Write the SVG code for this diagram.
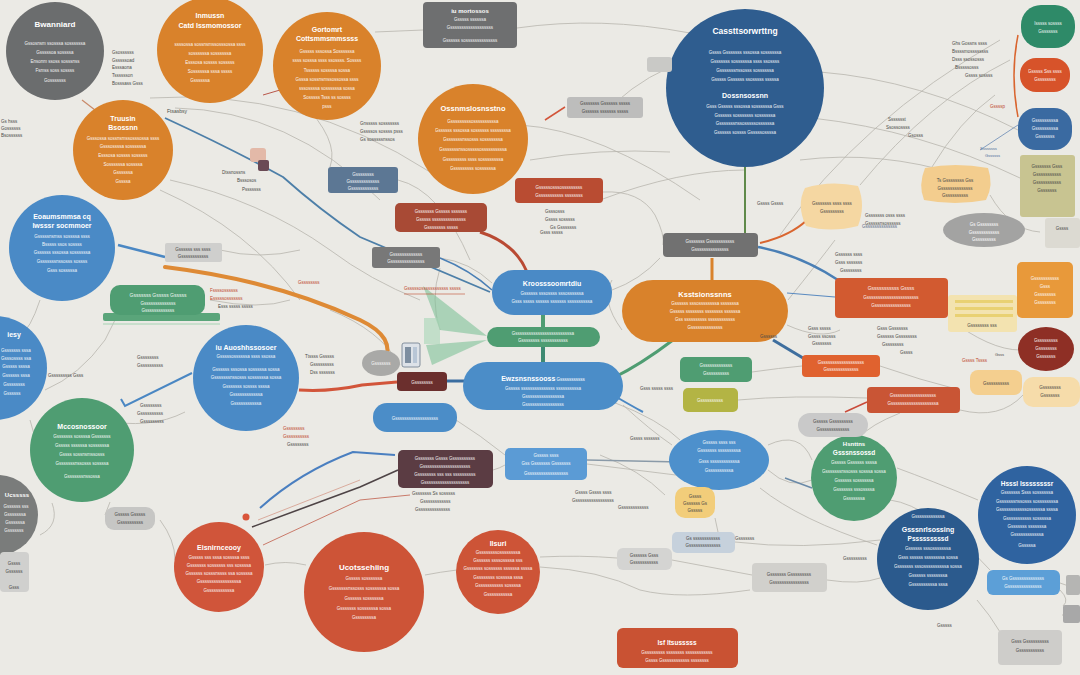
<svg xmlns="http://www.w3.org/2000/svg" width="1080" height="675" viewBox="0 0 1080 675">
<defs>
<style>
text{font-family:"Liberation Sans",Arial,sans-serif}
.ti{fill:#fff;font-size:8px;font-weight:bold;text-anchor:middle}
.sm{fill:#fff;font-size:4.5px;text-anchor:middle;opacity:.92}
.dk{fill:#4a4a48;font-size:5px}
.dkm{fill:#4a4a48;font-size:4.5px;text-anchor:middle}
.rd{fill:#c0492d;font-size:5px}
.c{fill:none;stroke:#b7b5ad;stroke-width:.8}
.c2{fill:none;stroke:#a9a7a0;stroke-width:1.1}
</style>
</defs>
<rect width="1080" height="675" fill="#ebeae5"/>

<g id="connectors">
<path class="c" d="M375,32 L423,30"/>
<path class="c" d="M517,28 Q600,16 690,33"/>
<path class="c" d="M600,118 Q630,85 668,68"/>
<path class="c" d="M530,160 Q600,148 670,152"/>
<path class="c" d="M150,98 Q300,88 430,172"/>
<path class="c" d="M175,108 Q290,110 380,200"/>
<path class="c" d="M170,180 Q260,200 330,250 Q370,280 420,300"/>
<path class="c" d="M160,190 Q250,230 300,300"/>
<path class="c" d="M820,72 Q920,80 1018,130"/>
<path class="c" d="M812,118 Q920,130 1020,178"/>
<path class="c" d="M780,235 Q860,120 1000,40"/>
<path class="c" d="M860,185 Q930,100 1010,60"/>
<path class="c" d="M800,160 Q880,150 960,175"/>
<path class="c" d="M995,95 Q960,120 930,170"/>
<path class="c" d="M990,195 Q1010,230 1040,232"/>
<path class="c" d="M603,192 Q640,190 655,215 Q665,235 663,245"/>
<path class="c" d="M600,200 Q680,170 745,170"/>
<path class="c" d="M520,125 Q600,130 700,200"/>
<path class="c" d="M612,290 Q640,280 660,258"/>
<path class="c" d="M440,258 Q470,262 492,283"/>
<path class="c" d="M398,180 Q440,190 470,260"/>
<path class="c" d="M300,100 Q340,140 330,167"/>
<path class="c" d="M40,300 Q30,330 20,335"/>
<path class="c" d="M45,390 Q80,375 105,340 L115,320"/>
<path class="c" d="M100,420 Q150,430 185,412"/>
<path class="c" d="M210,300 Q260,310 290,300"/>
<path class="c" d="M220,250 Q260,260 300,250"/>
<path class="c" d="M30,420 Q40,450 35,470"/>
<path class="c" d="M110,502 L105,515"/>
<path class="c" d="M40,535 Q60,525 52,503"/>
<path class="c" d="M160,520 Q175,540 175,560"/>
<path class="c" d="M265,565 Q285,560 306,565"/>
<path class="c" d="M425,575 Q440,572 457,570"/>
<path class="c" d="M540,557 Q580,555 617,558"/>
<path class="c" d="M540,567 Q600,570 640,590 Q680,600 750,590"/>
<path class="c" d="M672,560 L752,575"/>
<path class="c" d="M587,464 L700,478"/>
<path class="c" d="M623,405 Q650,430 672,445"/>
<path class="c" d="M613,402 Q660,420 680,440"/>
<path class="c" d="M600,455 Q640,470 665,495"/>
<path class="c" d="M768,470 Q790,490 812,480"/>
<path class="c" d="M760,488 Q800,520 877,545"/>
<path class="c" d="M768,445 Q800,430 812,460"/>
<path class="c" d="M715,518 L718,532"/>
<path class="c" d="M735,542 Q800,550 880,540"/>
<path class="c" d="M897,468 Q930,480 978,500"/>
<path class="c" d="M890,500 Q930,505 990,570"/>
<path class="c" d="M977,600 Q990,615 1000,632"/>
<path class="c" d="M1060,583 L1080,590"/>
<path class="c" d="M1062,615 L1080,615"/>
<path class="c" d="M1060,590 Q1070,600 1063,606"/>
<path class="c" d="M827,580 Q860,585 880,578"/>
<path class="c" d="M860,437 Q870,425 900,413"/>
<path class="c" d="M880,366 Q920,380 960,390"/>
<path class="c" d="M948,305 Q985,300 1017,300"/>
<path class="c" d="M948,318 Q990,350 1020,350"/>
<path class="c" d="M960,410 Q1000,420 1023,395"/>
<path class="c" d="M787,325 Q820,340 840,330"/>
<path class="c" d="M788,300 Q820,260 835,240"/>
<path class="c" d="M752,372 Q780,368 802,366"/>
<path class="c" d="M738,400 Q790,395 867,398"/>
<path class="c" d="M622,330 Q600,300 612,280"/>
<path class="c" d="M456,420 Q480,435 505,455"/>
<path class="c" d="M493,470 Q500,468 505,465"/>
<path class="c" d="M400,365 Q380,330 330,310"/>
<path class="c" d="M440,268 Q430,300 440,330"/>
<path d="M1018,35 Q1010,75 1018,117" fill="none" stroke="#d9652f" stroke-width="1.5"/>
<path d="M165,267 C230,275 300,292 360,320 C385,332 392,345 385,362" fill="none" stroke="#de8a35" stroke-width="4" stroke-linecap="round"/>
<path d="M118,245 L165,257" fill="none" stroke="#4a87c3" stroke-width="2.5"/>
<path d="M192,373 L125,406 L121,399" fill="none" stroke="#4a87c3" stroke-width="2"/>
<path d="M165,118 Q230,148 283,177 Q320,210 360,237 L490,292" fill="none" stroke="#4d7fa8" stroke-width="1.8"/>
<path d="M440,258 Q470,270 492,290" fill="none" stroke="#4a7fb5" stroke-width="1.5"/>
<path d="M480,232 C505,240 520,255 527,272" fill="none" stroke="#b94a33" stroke-width="3"/>
<path d="M673,340 Q640,365 613,378" fill="none" stroke="#4f9d72" stroke-width="3"/>
<path d="M543,315 L543,327" stroke="#4f9d72" stroke-width="4"/>
<path d="M543,347 L543,363" stroke="#3e8a72" stroke-width="4"/>
<path d="M712,258 L712,281" stroke="#d9822b" stroke-width="3"/>
<path d="M745,167 L745,233" stroke="#5f8a4a" stroke-width="2"/>
<path d="M807,220 Q790,236 760,243" fill="none" stroke="#d9652f" stroke-width="2"/>
<path d="M758,247 Q800,255 838,280" fill="none" stroke="#4a7fb5" stroke-width="2.5"/>
<path d="M787,293 L835,297" fill="none" stroke="#5a8ac0" stroke-width="1.2"/>
<path d="M773,340 L803,358" fill="none" stroke="#3e6e9e" stroke-width="3"/>
<path d="M867,402 L845,412" fill="none" stroke="#c94b3a" stroke-width="1.5"/>
<path d="M613,395 Q630,405 643,412" fill="none" stroke="#4a87c3" stroke-width="2"/>
<path d="M447,381 L464,381" stroke="#3a6da0" stroke-width="3"/>
<path d="M299,390 Q330,392 362,385 L397,382" fill="none" stroke="#d2553a" stroke-width="3"/>
<path d="M260,508 Q300,472 353,452 L395,455" fill="none" stroke="#4a7fc0" stroke-width="2"/>
<path d="M252,527 L360,487 L398,470" fill="none" stroke="#4e4446" stroke-width="1.6"/>
<path d="M263,545 L360,500 L410,495" fill="none" stroke="#c97a6a" stroke-width="1"/>
<path d="M258,520 L360,480" fill="none" stroke="#d49a8a" stroke-width=".8"/>
<path d="M587,460 L680,462" fill="none" stroke="#8a9aa8" stroke-width="1.5"/>
<path d="M785,478 L812,488" fill="none" stroke="#6a8aa8" stroke-width="1.5"/>
<path d="M545,120 L565,107" fill="none" stroke="#d2553a" stroke-width="1.5"/>
<path d="M280,90 L263,95" fill="none" stroke="#b9574a" stroke-width="1"/>
<path d="M82,100 L95,110" fill="none" stroke="#c98a6a" stroke-width="1.2"/>
<path d="M980,150 L1018,125" fill="none" stroke="#6a8ab5" stroke-width=".8"/>
</g>

<g id="n1"><circle cx="55" cy="51" r="49" fill="#6b6d6e"/>
<text class="ti" x="55" y="27">Bwanniard</text>
<text class="sm" x="55" y="45">Gssosnsm ssosssa sossssssa</text>
<text class="sm" x="55" y="54">Gsssssoa sossssa</text>
<text class="sm" x="55" y="63">Ensonm ssoss sosssnss</text>
<text class="sm" x="55" y="72">Fsmss soss sossss</text>
<text class="sm" x="55" y="82">Gosssssss</text></g>

<g id="n2"><circle cx="210" cy="50" r="53" fill="#d9822b"/>
<text class="ti" x="210" y="18" style="font-size:7px">Inmussn</text>
<text class="ti" x="210" y="28" style="font-size:7px">Catd Issmomossor</text>
<text class="sm" x="210" y="46">ssssossa sossnsmssosssossa ssss</text>
<text class="sm" x="210" y="55">sossssssa sossssssa</text>
<text class="sm" x="210" y="64">Esssosa sossss sosssss</text>
<text class="sm" x="210" y="73">Sossssssa sssa sssss</text>
<text class="sm" x="200" y="82">Gssssssa</text></g>

<g id="n3"><circle cx="327" cy="66" r="54" fill="#d9822b"/>
<text class="ti" x="327" y="32" style="font-size:7px">Gortomrt</text>
<text class="ti" x="327" y="41" style="font-size:7px">Cottsmmsmmssss</text>
<text class="sm" x="327" y="53">Gsssss sssossa Sossssssa</text>
<text class="sm" x="327" y="62">ssss sosssa ssss ssossss. Sossss</text>
<text class="sm" x="327" y="72">Tssssss sossssa sossa</text>
<text class="sm" x="327" y="81">Gsssa sossnsmssossossa ssss</text>
<text class="sm" x="327" y="90">sssossssa sossssssa sossa</text>
<text class="sm" x="327" y="99">Sosssss Tsss ss sossss</text>
<text class="sm" x="327" y="108">psss</text></g>

<g id="n4"><circle cx="123" cy="150" r="50" fill="#d9822b"/>
<text class="ti" x="123" y="121" style="font-size:7px">Truusin</text>
<text class="ti" x="123" y="130" style="font-size:7px">Bsossnn</text>
<text class="sm" x="123" y="140">Gsssossa sossnsmssosssossa ssss</text>
<text class="sm" x="123" y="148">Gsssossssa sossssssa</text>
<text class="sm" x="123" y="157">Esssosa sossss sosssss</text>
<text class="sm" x="123" y="166">Sossssssa sossssa</text>
<text class="sm" x="123" y="174">Gssssssa</text>
<text class="sm" x="123" y="183">Gssssa</text></g>

<g id="n5"><circle cx="62" cy="248" r="53" fill="#4a8ac6"/>
<text class="ti" x="62" y="219" style="font-size:7px">Eoaumsmmsa cq</text>
<text class="ti" x="62" y="228" style="font-size:7px">Iwsssr socmmoer</text>
<text class="sm" x="62" y="238">Gsssssnsmss sossssa ssss</text>
<text class="sm" x="62" y="246">Bsssss ssos sossss</text>
<text class="sm" x="62" y="254">Gssssss sssossa sossssssa</text>
<text class="sm" x="62" y="263">Gsssssssnssosss sossss</text>
<text class="sm" x="62" y="272">Gsss sosssssa</text></g>

<g id="n6"><circle cx="-5" cy="368" r="52" fill="#4a8ac6"/>
<text class="ti" x="14" y="337" style="font-size:7px">iesy</text>
<text class="sm" x="16" y="352">Gsssssss sssa</text>
<text class="sm" x="16" y="360">Gsssossss ssa</text>
<text class="sm" x="16" y="368">Gsssss ssssa</text>
<text class="sm" x="16" y="377">Gssssss sssa</text>
<text class="sm" x="14" y="386">Gssssssss</text>
<text class="sm" x="12" y="395">Gssssss</text></g>

<g id="n7"><circle cx="246" cy="378" r="53" fill="#4a8ac6"/>
<text class="ti" x="246" y="350" style="font-size:7px">iu Auoshhssosoer</text>
<text class="sm" x="246" y="358">Gsssssossssssa ssss ssossa</text>
<text class="sm" x="246" y="371">Gssssss sssossa sosssssa sossa</text>
<text class="sm" x="246" y="379">Gsssssssnssosss sossssssa sossa</text>
<text class="sm" x="246" y="388">Gsssssss sossss ssssa</text>
<text class="sm" x="246" y="396">Gssssssssssssa</text>
<text class="sm" x="246" y="405">Gsssssssssssa</text></g>

<g id="n8"><circle cx="82" cy="450" r="52" fill="#4f9d72"/>
<text class="ti" x="82" y="429" style="font-size:7px">Mccosnossoor</text>
<text class="sm" x="82" y="438">Gsssssss sossssa Gsssssss</text>
<text class="sm" x="82" y="447">Gsssss ssssssa sossssssa</text>
<text class="sm" x="82" y="456">Gssss sossnsmssosss</text>
<text class="sm" x="82" y="465">Gsssssssnssosss sossssa</text>
<text class="sm" x="82" y="478">Gsssssssnssossa</text></g>

<g id="n9"><circle cx="-2" cy="515" r="40" fill="#7a7c7b"/>
<text class="ti" x="17" y="497" style="font-size:6px">Ucsssss</text>
<text class="sm" x="16" y="508">Gssssss sss</text>
<text class="sm" x="15" y="516">Gsssssssa</text>
<text class="sm" x="15" y="524">Gssssssa</text>
<text class="sm" x="14" y="532">Gsssssss</text></g>

<g id="n10"><circle cx="219" cy="567" r="45" fill="#d0553a"/>
<text class="ti" x="219" y="550" style="font-size:7px">Eisnirnceooy</text>
<text class="sm" x="219" y="559">Gsssss sss sssa sossssa ssss</text>
<text class="sm" x="219" y="567">Gsssssss sossssss sss sossssa</text>
<text class="sm" x="219" y="575">Gssssss sosssnssss ssa sossssa</text>
<text class="sm" x="219" y="583">Gsssssssssssssssssa</text>
<text class="sm" x="219" y="592">Gsssssssssssa</text></g>

<g id="n11"><circle cx="364" cy="592" r="60" fill="#cd5437"/>
<text class="ti" x="364" y="570">Ucotssehiing</text>
<text class="sm" x="364" y="580">Gsssss sossssssa</text>
<text class="sm" x="364" y="590">Gsssssssnssosss sossssssa sossa</text>
<text class="sm" x="364" y="600">Gssssss sossssssa</text>
<text class="sm" x="364" y="610">Gsssssss sossssssa sossa</text>
<text class="sm" x="364" y="619">Gssssssssa</text></g>

<g id="n12"><circle cx="498" cy="572" r="42" fill="#cd5437"/>
<text class="ti" x="498" y="546" style="font-size:7px">Ilsuri</text>
<text class="sm" x="498" y="554">Gssssssssossssssssa</text>
<text class="sm" x="498" y="562">Gssssss ssssossssa sss</text>
<text class="sm" x="498" y="570">Gsssssss sossssss ssssssa ssssa</text>
<text class="sm" x="498" y="579">Gssssssss sossssa sssa</text>
<text class="sm" x="498" y="587">Gsssssssssss sossssa</text>
<text class="sm" x="498" y="596">Gssssssssssa</text></g>

<g id="n13"><circle cx="473" cy="139" r="55" fill="#d9822b"/>
<text class="ti" x="473" y="111" style="font-size:7.5px">Ossnmslosnsstno</text>
<text class="sm" x="473" y="123">Gsssssssssossssssssssa</text>
<text class="sm" x="473" y="132">Gssssss sssossa sossssss ssssssssa</text>
<text class="sm" x="473" y="141">Gsssssssnssosss sosssssssa</text>
<text class="sm" x="473" y="151">Gsssssssnssosssssossssssssssa</text>
<text class="sm" x="473" y="161">Gsssssssss ssss sossssssssa</text>
<text class="sm" x="473" y="170">Gsssssssss sossssssa</text></g>

<g id="n14"><circle cx="745" cy="88" r="79" fill="#2f5d8f"/>
<text class="ti" x="745" y="34" style="font-size:8.5px">Cassttsorwrttng</text>
<text class="sm" x="745" y="54">Gssss Gsssssss sssossa sossssssa</text>
<text class="sm" x="745" y="63">Gsssssss sossssssa ssss ssossss</text>
<text class="sm" x="745" y="72">Gsssssssnssosss sossssssa</text>
<text class="sm" x="745" y="81">Gsssss Gssssss ssosssss sssssa</text>
<text class="ti" x="745" y="98" style="font-size:7px">Dossnsossnn</text>
<text class="sm" x="745" y="108">Gsss Gsssss sssossa sossssssa Gsss</text>
<text class="sm" x="745" y="117">Gssssss sosssssss sossssssa</text>
<text class="sm" x="745" y="125">Gsssssssnssosssssossssssa</text>
<text class="sm" x="745" y="134">Gssssss sossss Gsssssossssa</text></g>

<g id="n15"><ellipse cx="719" cy="460" rx="50" ry="30" fill="#4d90cc"/>
<text class="sm" x="719" y="444">Gsssss ssss sss</text>
<text class="sm" x="719" y="452">Gsssssss sssssssssa</text>
<text class="sm" x="719" y="463">Gsss ssssssssssssa</text>
<text class="sm" x="719" y="472">Gssssssssssa</text></g>

<g id="n16"><circle cx="854" cy="478" r="43" fill="#4f9d72"/>
<text class="ti" x="854" y="446" style="font-size:6px">Hsnttns</text>
<text class="ti" x="854" y="455" style="font-size:6.5px">Gsssnssossd</text>
<text class="sm" x="854" y="464">Gsssss Gssssss ssssa</text>
<text class="sm" x="854" y="473">Gsssssssnssosss sosssa sossa</text>
<text class="sm" x="854" y="482">Gssssss sossssssa</text>
<text class="sm" x="854" y="491">Gsssssss sssossssa</text>
<text class="sm" x="854" y="500">Gsssssssa</text></g>

<g id="n17"><circle cx="928" cy="559" r="51" fill="#2b5a8d"/>
<text class="sm" x="928" y="518">Gssssssssssssa</text>
<text class="ti" x="928" y="532" style="font-size:7px">Gsssnrlsossing</text>
<text class="ti" x="928" y="541" style="font-size:6.5px">Psssssssssd</text>
<text class="sm" x="928" y="550">Gssssss sssosssssssa</text>
<text class="sm" x="928" y="559">Gsss ssssss ssssssssa sossa</text>
<text class="sm" x="928" y="568">Gsssssss sssossssssssssa sossa</text>
<text class="sm" x="928" y="577">Gssssss ssssssssa</text>
<text class="sm" x="928" y="586">Gssssssssssa sssa</text></g>

<g id="n18"><circle cx="1027" cy="515" r="49" fill="#2f63a0"/>
<text class="ti" x="1027" y="486" style="font-size:6.5px">Hsssl Issssssssr</text>
<text class="sm" x="1027" y="494">Gsssssss Ssss sossssssa</text>
<text class="sm" x="1027" y="503">Gsssssssnssosss sossssssssa</text>
<text class="sm" x="1027" y="511">Gssssssssssssossssssa ssssa</text>
<text class="sm" x="1027" y="520">Gsssssssssss sosssssa</text>
<text class="sm" x="1027" y="528">Gsssssss sssssssa</text>
<text class="sm" x="1027" y="536">Gssssssssssssa</text>
<text class="sm" x="1027" y="547">Gsssssa</text></g>

<g id="b1"><rect x="1021" y="5" width="54" height="43" rx="20" fill="#2e8a68"/>
<text class="sm" x="1048" y="25">Isssss sossss</text><text class="sm" x="1048" y="33">Gsssssss</text></g>
<g id="b2"><rect x="1020" y="58" width="50" height="34" rx="16" fill="#d7532a"/>
<text class="sm" x="1045" y="73">Gsssss Sss ssss</text><text class="sm" x="1045" y="81">Gssssssss</text></g>
<g id="b3"><rect x="1018" y="108" width="54" height="42" rx="18" fill="#3a6aa1"/>
<text class="sm" x="1045" y="122">Gsssssssssa</text><text class="sm" x="1045" y="130">Gsssssssssa</text><text class="sm" x="1045" y="138">Gsssssss</text></g>
<g id="b4"><rect x="1020" y="155" width="55" height="62" rx="3" fill="#c8c491"/>
<text class="dkm" x="1047" y="168">Gsssssss Gsss</text><text class="dkm" x="1047" y="176">Gsssssssssss</text><text class="dkm" x="1047" y="184">Gsssssssssss</text><text class="dkm" x="1047" y="192">Gsssssss</text></g>
<g id="b5"><ellipse cx="1046" cy="349" rx="28" ry="22" fill="#8e2f25"/>
<text class="sm" x="1046" y="342">Gsssssssss</text><text class="sm" x="1046" y="350">Gssssssss</text><text class="sm" x="1046" y="358">Gsssssss</text></g>

<g id="r1"><rect x="423" y="2" width="94" height="46" rx="4" fill="#6e6f70"/>
<text class="ti" x="470" y="13" style="font-size:6px">iu mortossos</text>
<text class="sm" x="470" y="21">Gsssss ssssssa</text><text class="sm" x="470" y="29">Gsssssssssssssssssss</text><text class="sm" x="470" y="42">Gssssss sossssssssssssss</text></g>
<g id="r2"><rect x="567" y="97" width="76" height="21" rx="3" fill="#bdbdbc"/>
<text class="dkm" x="605" y="105">Gsssssss Gssssss sssss</text><text class="dkm" x="605" y="113">Gssssss sssssss sssss</text></g>
<g id="r2b"><rect x="647" y="57" width="25" height="15" rx="3" fill="#c9c9c6"/></g>
<g id="r3"><rect x="515" y="178" width="88" height="25" rx="4" fill="#b94c32"/>
<text class="sm" x="559" y="189">Gsssssosssosssssssss</text><text class="sm" x="559" y="197">Gsssssssssss ssssssss</text></g>
<g id="r4"><rect x="328" y="167" width="70" height="26" rx="3" fill="#5c7794"/>
<text class="sm" x="363" y="176">Gssssssss</text><text class="sm" x="363" y="183">Gsssssssssssss</text><text class="sm" x="363" y="190">Gssssssssssss</text></g>
<g id="r5"><rect x="395" y="203" width="92" height="29" rx="5" fill="#a84a35"/>
<text class="sm" x="441" y="213">Gsssssss Gsssss sssssss</text><text class="sm" x="441" y="221">Gsssss sssssssssssssss</text><text class="sm" x="441" y="229">Gssssssss sssss</text></g>
<g id="r6"><rect x="372" y="247" width="68" height="21" rx="3" fill="#787878"/>
<text class="sm" x="406" y="256">Gsssssssssssss</text><text class="sm" x="406" y="263">Gsssssssssssssss</text></g>
<g id="r7"><rect x="492" y="270" width="120" height="45" rx="22" fill="#4a8ac6"/>
<text class="ti" x="552" y="286" style="font-size:7px">Kroosssoomrtdiu</text>
<text class="sm" x="552" y="295">Gssssss sssossss sssossssssa</text><text class="sm" x="552" y="303">Gsss sssss ssssss sssssss ssssssssssa</text></g>
<g id="r8"><rect x="487" y="327" width="113" height="20" rx="10" fill="#4f9d72"/>
<text class="sm" x="543" y="335">Gsssssssssssssssssssssssssa</text><text class="sm" x="543" y="342">Gssssssss ssssssssssss</text></g>
<g id="r9"><rect x="463" y="362" width="160" height="48" rx="24" fill="#4b8dc8"/>
<text class="ti" x="543" y="381" style="font-size:7px">Ewzsnsnssooss<tspan style="font-size:4.5px;font-weight:normal"> Gsssssssssss</tspan></text>
<text class="sm" x="543" y="390">Gsssss sssssssssssssss ssssssssssa</text><text class="sm" x="543" y="398">Gssssssssssssssssa</text><text class="sm" x="543" y="406">Gsssssssssssssssss</text></g>
<g id="r10"><rect x="397" y="372" width="50" height="19" rx="4" fill="#6b2f2d"/>
<text class="sm" x="422" y="384">Gssssssss</text></g>
<g id="r11"><ellipse cx="381" cy="363" rx="19" ry="13" fill="#a9a9a7"/>
<text class="sm" x="381" y="365">Gsssssss</text></g>
<g id="icon"><rect x="402" y="343" width="18" height="24" rx="2" fill="#dde2e8" stroke="#6b7a8a" stroke-width=".8"/>
<rect x="405" y="347" width="6" height="16" fill="#7d8ea0"/><rect x="413" y="347" width="4" height="16" fill="#b8c6d6"/></g>
<g id="wedge"><polygon points="423,286 487,336 440,330" fill="#7fc298" opacity=".6"/>
<polygon points="426,345 487,340 432,365" fill="#7fc298" opacity=".6"/>
<rect x="424" y="318" width="16" height="26" fill="#a6d6b6" opacity=".6"/></g>
<g id="r12"><rect x="373" y="403" width="84" height="29" rx="14" fill="#4b8dc8"/>
<text class="sm" x="415" y="420">Gsssssssssssssssssss</text></g>
<g id="r13"><rect x="622" y="280" width="166" height="62" rx="31" fill="#d9822b"/>
<text class="ti" x="705" y="297" style="font-size:7.5px">Ksstsionssnns</text>
<text class="sm" x="705" y="305">Gssssss sssossssssssa sssssssa</text><text class="sm" x="705" y="313">Gsssss ssssssss ssssssss ssssssa</text><text class="sm" x="705" y="321">Gss ssssssssss ssssssssssss</text><text class="sm" x="705" y="329">Gssssssssssssss</text></g>
<g id="r14"><rect x="663" y="233" width="95" height="24" rx="4" fill="#717171"/>
<text class="sm" x="710" y="243">Gsssssss Gsssssssssss</text><text class="sm" x="710" y="251">Gsssssssssssssss</text></g>
<g id="r15"><rect x="680" y="357" width="72" height="25" rx="5" fill="#4f9d72"/>
<text class="sm" x="716" y="367">Gsssssssssssss</text><text class="sm" x="716" y="375">Gssssssssss</text></g>
<g id="r16"><rect x="683" y="388" width="55" height="24" rx="5" fill="#b3b444"/>
<text class="sm" x="710" y="402">Gssssssssss</text></g>
<g id="r17"><rect x="835" y="278" width="113" height="40" rx="4" fill="#d25a30"/>
<text class="sm" x="891" y="290" style="font-size:5px">Gsssssssssss Gssss</text><text class="sm" x="891" y="299">Gsssssssssssssssssssssss</text><text class="sm" x="891" y="307">Gssssssssssssssss</text></g>
<g id="r18"><rect x="802" y="355" width="78" height="22" rx="4" fill="#e0622f"/>
<text class="sm" x="841" y="364">Gsssssssssssssssssss</text><text class="sm" x="841" y="371">Gssssssssssssss</text></g>
<g id="r19"><rect x="867" y="387" width="93" height="26" rx="4" fill="#c95535"/>
<text class="sm" x="913" y="397">Gsssssssssssssssssss</text><text class="sm" x="913" y="405">Gssssssssssssssssssssa</text></g>
<g id="r20"><rect x="798" y="413" width="70" height="24" rx="12" fill="#c9c9c9"/>
<text class="dkm" x="833" y="423">Gsssss Gsssssssss</text><text class="dkm" x="833" y="431">Gsssssssssssss</text></g>
<g id="r21"><path d="M805,188 Q830,180 858,186 Q866,205 858,226 Q830,233 806,226 Q796,205 805,188 Z" fill="#f5d7a2"/>
<text class="dkm" x="832" y="205">Gsssssss ssss ssss</text><text class="dkm" x="832" y="213">Gsssssssss</text></g>
<g id="r22"><path d="M925,168 Q955,162 988,168 Q994,185 986,200 Q955,206 924,200 Q918,185 925,168 Z" fill="#f3cd8e"/>
<text class="dkm" x="955" y="182">Ts Gssssssss Gss</text><text class="dkm" x="955" y="190">Gssssssssssssss</text><text class="dkm" x="955" y="197">Gssssssssss</text></g>
<g id="r23"><ellipse cx="984" cy="230" rx="41" ry="17" fill="#a3a3a2"/>
<text class="dkm" x="984" y="226" style="fill:#fff">Gs Gssssssss</text><text class="dkm" x="984" y="234" style="fill:#fff">Gssssssssssss</text><text class="dkm" x="984" y="241" style="fill:#fff">Gsssssssss</text></g>
<g id="r24"><rect x="1045" y="218" width="35" height="30" rx="3" fill="#dcdad2"/>
<text class="dkm" x="1062" y="230">Gssss</text></g>
<g id="r25"><rect x="1017" y="262" width="56" height="56" rx="5" fill="#e8993a"/>
<text class="sm" x="1045" y="280">Gsssssssssss</text><text class="sm" x="1045" y="288">Gsss</text><text class="sm" x="1045" y="296">Gssssssss</text><text class="sm" x="1045" y="304">Gssssssss</text></g>
<g id="r26"><rect x="948" y="295" width="69" height="37" rx="3" fill="#f3e3b0"/>
<rect x="955" y="300" width="58" height="3" fill="#e4c95a" opacity=".7"/><rect x="955" y="307" width="58" height="3" fill="#e4c95a" opacity=".7"/><rect x="955" y="314" width="58" height="3" fill="#e4c95a" opacity=".7"/>
<text class="dkm" x="982" y="327">Gssssssss sss</text></g>
<g id="r27"><rect x="970" y="370" width="52" height="25" rx="8" fill="#f4cf8f"/>
<text class="dkm" x="996" y="385">Gssssssssss</text></g>
<g id="r28"><rect x="1023" y="377" width="57" height="30" rx="10" fill="#f6dcaa"/>
<text class="dkm" x="1050" y="389">Gssssssss</text><text class="dkm" x="1050" y="397">Gsssssss</text></g>
<g id="r29"><rect x="398" y="450" width="95" height="38" rx="5" fill="#5b3c43"/>
<text class="sm" x="445" y="460">Gsssssss Gssss Gssssssssss</text><text class="sm" x="445" y="468">Gsssssssssssssssssssss</text><text class="sm" x="445" y="476">Gssssssss sss sss ssssssssss</text><text class="sm" x="445" y="484">Gssssssssssssssssssss</text></g>
<g id="r30"><rect x="505" y="448" width="82" height="32" rx="5" fill="#5b9bd5"/>
<text class="sm" x="546" y="457">Gsssss ssss</text><text class="sm" x="546" y="465">Gss Gsssssss Gsssssss</text><text class="sm" x="546" y="475">Gssssssssssssssssss</text></g>
<g id="r31"><rect x="675" y="487" width="40" height="31" rx="10" fill="#f2cd7a"/>
<text class="dkm" x="695" y="498">Gssss</text><text class="dkm" x="695" y="505">Gssssss Gs</text><text class="dkm" x="695" y="512">Gsssss</text></g>
<g id="r32"><rect x="672" y="532" width="63" height="21" rx="5" fill="#c6d1dc"/>
<text class="dkm" x="703" y="540">Gs ssssssssssss</text><text class="dkm" x="703" y="547">Gssssssssssssss</text></g>
<g id="r33"><rect x="617" y="548" width="55" height="22" rx="6" fill="#d4d4d2"/>
<text class="dkm" x="644" y="557">Gssssss Gsss</text><text class="dkm" x="644" y="564">Gsssssssssss</text></g>
<g id="r34"><rect x="617" y="628" width="121" height="40" rx="6" fill="#c95233"/>
<text class="ti" x="677" y="645" style="font-size:6.5px">lsf Itsusssss</text>
<text class="sm" x="677" y="654">Gsssssssss ssssssss ssssssssssss</text><text class="sm" x="677" y="662">Gssss Gssssssssssss ssssssss</text></g>
<g id="r35"><rect x="752" y="563" width="75" height="29" rx="4" fill="#d1d0cc"/>
<text class="dkm" x="789" y="576">Gsssssss Gsssssssss</text><text class="dkm" x="789" y="584">Gssssssssssssssss</text></g>
<g id="r36"><rect x="987" y="570" width="73" height="25" rx="6" fill="#5c9fd7"/>
<text class="sm" x="1023" y="580">Gs Gssssssssssssss</text><text class="sm" x="1023" y="588">Gsssssssssssssss</text></g>
<g id="r37"><rect x="998" y="630" width="64" height="35" rx="4" fill="#cecdca"/>
<text class="dkm" x="1030" y="643">Gsss Gssssssssss</text><text class="dkm" x="1030" y="652">Gsssssssssss</text></g>
<g id="r38"><rect x="1063" y="605" width="17" height="18" rx="2" fill="#a8a8a8"/><rect x="1066" y="575" width="14" height="20" rx="2" fill="#b5b5b3"/></g>
<g id="r39"><rect x="105" y="507" width="50" height="23" rx="9" fill="#c6c6c4"/>
<text class="dkm" x="130" y="516">Gsssss Gsssss</text><text class="dkm" x="130" y="524">Gssssssssss</text></g>
<g id="r40"><rect x="0" y="552" width="29" height="40" rx="4" fill="#d0d0ce"/>
<text class="dkm" x="14" y="565">Gssss</text><text class="dkm" x="14" y="573">Gssssss</text><text class="dkm" x="14" y="589">Gsss</text></g>
<g id="r41"><rect x="103" y="313" width="117" height="8" rx="2" fill="#5aa57a"/><rect x="110" y="285" width="95" height="30" rx="10" fill="#4f9d72"/>
<text class="sm" x="158" y="297" style="font-size:5px">Gsssssss Gsssss Gsssss</text><text class="sm" x="158" y="305">Gssssssssssssss</text><text class="sm" x="158" y="312">Gsssssssssssss</text>
<line x1="103" y1="324" x2="220" y2="324" stroke="#a6d3b4" stroke-width="1"/></g>
<g id="r42"><rect x="165" y="243" width="57" height="19" rx="2" fill="#cfcfcd"/>
<text class="dkm" x="193" y="251">Gssssss sss ssss</text><text class="dkm" x="193" y="258">Gssssssssssss</text></g>
<g id="tag"><rect x="250" y="148" width="16" height="14" rx="3" fill="#e3b9a8"/><rect x="258" y="160" width="11" height="11" rx="2" fill="#6a4a55"/>
<circle cx="246" cy="517" r="3.5" fill="#d9553a"/></g>

<g id="labels">
<text class="dk" x="112" y="54" style="font-size:4.5px">Gsossssss</text>
<text class="dk" x="112" y="62" style="font-size:4.5px">Gsssssoad</text>
<text class="dk" x="112" y="69" style="font-size:4.5px">Esssaona</text>
<text class="dk" x="112" y="77" style="font-size:4.5px">Tsssssson</text>
<text class="dk" x="112" y="85" style="font-size:4.5px">Bosssass Gsss</text>
<text class="dk" x="1" y="123" style="font-size:4.5px">Gs hsss</text>
<text class="dk" x="1" y="130" style="font-size:4.5px">Gossssss</text>
<text class="dk" x="1" y="137" style="font-size:4.5px">Bsossssss</text>
<text class="dk" x="167" y="113">Ftsasbsy</text>
<text class="dk" x="222" y="174" style="font-size:4.5px">Dtssnossns</text>
<text class="dk" x="237" y="182" style="font-size:4.5px">Bsssosos</text>
<text class="dk" x="242" y="191" style="font-size:4.5px">Psssssss</text>
<text class="dk" x="360" y="125" style="font-size:4.5px">Gnsssss sosssssss</text>
<text class="dk" x="360" y="133" style="font-size:4.5px">Gssssos sossss psss</text>
<text class="dk" x="360" y="141" style="font-size:4.5px">Gs sosssssnssos</text>
<text class="dk" x="545" y="213" style="font-size:4.5px">Gsssosss</text>
<text class="dk" x="545" y="221" style="font-size:4.5px">Gssss sosssss</text>
<text class="dk" x="550" y="229" style="font-size:4.5px">Gs Gsssssss</text>
<text class="dk" x="952" y="45" style="font-size:4.5px">Ghs Gossns ssss</text>
<text class="dk" x="952" y="53" style="font-size:4.5px">Bssssmossssssss</text>
<text class="dk" x="952" y="61" style="font-size:4.5px">Dsss ssossosss</text>
<text class="dk" x="955" y="69" style="font-size:4.5px">Bsssssosss</text>
<text class="dk" x="965" y="77" style="font-size:4.5px">Gssss sossss</text>
<text class="rd" x="990" y="108" style="font-size:4.5px">Gssssp</text>
<text class="dk" x="888" y="121" style="font-size:4.5px">Ssssssst</text>
<text class="dk" x="886" y="129" style="font-size:4.5px">Ssossossss</text>
<text class="dk" x="908" y="137" style="font-size:4.5px">Gsosss</text>
<text class="dk" x="980" y="150" style="font-size:4px;fill:#4a6a9a">Ssssssss</text>
<text class="dk" x="985" y="157" style="font-size:4px;fill:#4a6a9a">Gssssss</text>
<text class="dk" x="757" y="205" style="font-size:4.5px">Gssss Gssss</text>
<text class="dk" x="865" y="217" style="font-size:4.5px">Gsssssss osss ssss</text>
<text class="dk" x="865" y="225" style="font-size:4.5px">Gsssssnsossssss</text>
<text class="dk" x="862" y="228" style="font-size:4.5px;fill:#5a6a8a">Gssssssssssssss</text>
<text class="dk" x="835" y="256" style="font-size:4.5px">Gssssss ssss</text>
<text class="dk" x="835" y="264" style="font-size:4.5px">Gsss sssssss</text>
<text class="dk" x="840" y="272" style="font-size:4.5px">Gssssssss</text>
<text class="dk" x="808" y="330" style="font-size:4.5px">Gsss sssss</text>
<text class="dk" x="808" y="338" style="font-size:4.5px">Gssss ssosss</text>
<text class="dk" x="812" y="345" style="font-size:4.5px">Gsssssss</text>
<text class="dk" x="877" y="330" style="font-size:4.5px">Gsss Gsssssss</text>
<text class="dk" x="877" y="338" style="font-size:4.5px">Gssssss Gssssssss</text>
<text class="dk" x="882" y="346" style="font-size:4.5px">Gssssssss</text>
<text class="dk" x="900" y="354" style="font-size:4.5px">Gssss</text>
<text class="rd" x="962" y="362" style="font-size:4.5px">Gssss Tssss</text>
<text class="dk" x="995" y="356" style="font-size:4px">Gsss</text>
<text class="rd" x="404" y="290" style="font-size:4.5px">Gsssssossssssssssss sssss</text>
<line x1="404" y1="294" x2="465" y2="294" stroke="#c0492d" stroke-width=".6"/>
<text class="rd" x="210" y="292" style="font-size:4.5px">Fssssossssss</text>
<text class="rd" x="210" y="300" style="font-size:4.5px">Esssssosssssss</text>
<text class="dk" x="218" y="308" style="font-size:4.5px">Esss sssss sssss</text>
<text class="rd" x="298" y="284" style="font-size:4.5px">Gssssssss</text>
<text class="dk" x="137" y="359" style="font-size:4.5px">Gssssssss</text>
<text class="dk" x="137" y="367" style="font-size:4.5px">Gssssssssss</text>
<text class="dk" x="48" y="377" style="font-size:4.5px">Gsssssssss Gsss</text>
<text class="dk" x="305" y="358" style="font-size:4.5px">Ttssss Gsssss</text>
<text class="dk" x="310" y="366" style="font-size:4.5px">Gsssssssss</text>
<text class="dk" x="310" y="374" style="font-size:4.5px">Dss sssssss</text>
<text class="dk" x="140" y="407" style="font-size:4.5px">Gssssssss</text>
<text class="dk" x="137" y="415" style="font-size:4.5px">Gssssssssss</text>
<text class="dk" x="140" y="423" style="font-size:4.5px">Gsssssssss</text>
<text class="rd" x="283" y="430" style="font-size:4.5px">Gssssssss</text>
<text class="rd" x="283" y="438" style="font-size:4.5px">Gssssssssss</text>
<text class="dk" x="287" y="446" style="font-size:4.5px">Gssssssss</text>
<text class="dk" x="412" y="495" style="font-size:4.5px">Gsssssss Ss sosssss</text>
<text class="dk" x="420" y="503" style="font-size:4.5px">Gssssssssssss</text>
<text class="dk" x="415" y="511" style="font-size:4.5px">Gssssssssssssss</text>
<text class="dk" x="575" y="494" style="font-size:4.5px">Gssss  Gssss ssss</text>
<text class="dk" x="572" y="502" style="font-size:4.5px">Gsssssssssssssssss</text>
<text class="dk" x="618" y="509" style="font-size:4.5px">Gssssssssssss</text>
<text class="dk" x="735" y="540" style="font-size:4.5px">Gsssssss</text>
<text class="dk" x="843" y="560" style="font-size:4.5px">Gsssssssss</text>
<text class="dk" x="937" y="627" style="font-size:4.5px">Gsssss</text>
<text class="dk" x="760" y="338" style="font-size:4.5px">Gssssss</text>
<text class="dk" x="540" y="234" style="font-size:4.5px">Gsss sssss</text>
<text class="dk" x="640" y="390" style="font-size:4.5px">Gsss sssss ssss</text>
<text class="dk" x="630" y="440" style="font-size:4.5px">Gssss sssssss</text>
</g>
</svg>
